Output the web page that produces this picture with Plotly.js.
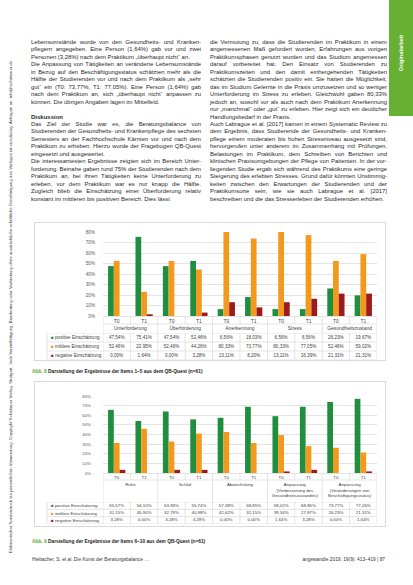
<!DOCTYPE html>
<html lang="de"><head><meta charset="utf-8">
<script src="https://cdn.plot.ly/plotly-3.0.1.min.js"></script>
<style>
html,body{margin:0;padding:0;background:#fff;}
#page{position:relative;width:413px;height:585px;overflow:hidden;font-family:"Liberation Sans",Arial,sans-serif;color:#2a2a2a;}
.col{position:absolute;top:39px;font-size:5.9px;line-height:7.45px;text-align:justify;}
.col p{margin:0;}
.col h4{margin:0;font-size:6px;line-height:7.45px;font-weight:bold;}
.frame{position:absolute;border:1px solid #d9d9d9;box-sizing:border-box;}
.plot{position:absolute;}
.cap{position:absolute;left:32px;font-size:4.8px;font-weight:bold;color:#1a1a1a;white-space:nowrap;}
.cap span{color:#5aab2e;}
#side{position:absolute;left:389px;top:0;width:24px;height:116px;background:#66b032;}
#sideText{position:absolute;left:401px;top:53px;transform:translate(-50%,-50%) rotate(-90deg);color:#fff;font-weight:bold;font-size:5.6px;white-space:nowrap;}
#vert{position:absolute;left:10px;top:307px;transform:translate(-50%,-50%) rotate(-90deg);font-size:4.3px;white-space:nowrap;color:#333;}
.foot{position:absolute;top:557px;font-size:4.8px;color:#333;white-space:nowrap;}
</style></head>
<body>
<div id="page">
  <div id="vert">Elektronischer Sonderdruck zur persönlichen Verwendung. Copyright Schattauer Verlag, Stuttgart. Jede Vervielfältigung, Bearbeitung oder Verbreitung ohne ausdrückliche schriftliche Genehmigung des Verlages ist unzulässig. Anfragen an: info@schattauer.de</div>
  <div id="side"></div>
  <div id="sideText">Originalarbeit</div>

  <div class="col" style="left:31px;width:170px;">
    <p>Lebensumstände wurde von den Gesund&shy;heits- und Kranken&shy;pflegern angegeben. Eine Person (1,64%) gab vor und zwei Personen (3,28%) nach dem Praktikum „überhaupt nicht“ an.</p>
    <p>Die Anpassung von Tätig&shy;keiten an veränderte Lebens&shy;umstände in Bezug auf den Beschäfti&shy;gungs&shy;status schätzten mehr als die Hälfte der Studierenden vor und nach dem Prak&shy;tikum als „sehr gut“ ein (T0: 73,77%, T1: 77,05%). Eine Person (1,64%) gab nach dem Praktikum an, sich „überhaupt nicht“ an&shy;passen zu können. Die übrigen Angaben lagen im Mittelfeld.</p>
    <p>&nbsp;</p>
    <h4>Diskussion</h4>
    <p>Das Ziel der Studie war es, die Beratungs&shy;balance von Studierenden der Gesund&shy;heits- und Kranken&shy;pflege des sechsten Semesters an der Fach&shy;hoch&shy;schule Kärnten vor und nach dem Praktikum zu erheben. Hierzu wurde der Frage&shy;bogen QB-Quest eingesetzt und ausgewertet.</p>
    <p>Die interessantesten Ergebnisse zeigten sich im Bereich Unter&shy;forderung. Beinahe gaben rund 75% der Studie&shy;renden nach dem Praktikum an, bei ihren Tätig&shy;keiten keine Unter&shy;forderung zu erleben, vor dem Praktikum war es nur knapp die Hälfte. Zugleich blieb die Ein&shy;schätzung einer Über&shy;forderung relativ konstant im mittleren bis positiven Bereich. Dies lässt</p>
  </div>

  <div class="col" style="left:210px;width:177px;">
    <p>die Vermutung zu, dass die Studierenden im Praktikum in einem an&shy;gemessenen Maß gefordert wurden, Erfahrungen aus vor&shy;igen Praktikums&shy;phasen genutzt wurden und das Studium angemessen darauf vorbereitet hat. Den Einsatz von Studierenden zu Praktikums&shy;zeiten und den damit einher&shy;gehenden Tätigkeiten schätzten die Studierenden positiv ein. Sie hatten die Möglichkeit, das im Studium Gelernte in die Praxis umzusetzen und so weniger Unter&shy;forderung im Stress zu erleben. Gleichwohl gaben 80,33% jedoch an, sowohl vor als auch nach dem Praktikum Aner&shy;kennung nur „manchmal“ oder „gut“ zu erleben. Hier zeigt sich ein deutlicher Handlungs&shy;bedarf in der Praxis.</p>
    <p>Auch Labrague et al. [2017] kamen in einem Systematic Review zu dem Ergebnis, dass Studierende der Gesund&shy;heits- und Kranken&shy;pflege einem moderaten bis hohen Stress&shy;niveau ausgesetzt sind, hervor&shy;gerufen unter anderem im Zusammen&shy;hang mit Prüfungen, Belas&shy;tungen im Praktikum, dem Schreiben von Berichten und klinischen Praxis&shy;umgebungen der Pflege von Patienten. In der vor&shy;liegenden Studie ergab sich während des Prak&shy;tikums eine geringe Steigerung des erlebten Stresses. Grund dafür könnten Unstimmig&shy;keiten zwischen den Erwartungen der Studie&shy;renden und der Praktikums&shy;orte sein, wie sie auch Labrague et al. [2017] beschreiben und die das Stress&shy;erleben der Studierenden erhöhen.</p>
  </div>

  <div class="frame" style="left:34px;top:222px;width:352px;height:139px;"></div>
  <div id="chart1" class="plot" style="left:34px;top:222px;width:352px;height:139px;"></div>
  <div class="cap" style="top:369px;"><span>Abb. 8</span> Darstellung der Ergebnisse der Items 1–5 aus dem QB-Quest (n=61)</div>

  <div class="frame" style="left:34px;top:381px;width:352px;height:146px;"></div>
  <div id="chart2" class="plot" style="left:34px;top:381px;width:352px;height:146px;"></div>
  <div class="cap" style="top:539px;"><span>Abb. 9</span> Darstellung der Ergebnisse der Items 6–10 aus dem QB-Quest (n=61)</div>

  <div class="foot" style="left:32px;">Hiebacher, S. et al. Die Kunst der Beratungsbalance …</div>
  <div class="foot" style="right:28px;">angewandte 2019; 19(9): 413–419 | 87</div>
</div>
<script>
// ---- data ----
const times = ["T0", "T1"];
const seriesNames = ["positive Einschätzung", "mittlere Einschätzung", "negative Einschätzung"];
const seriesColors = ["#1f8f3f", "#f39a1e", "#9a1c1c"];

const groups1 = ["Unterforderung", "Überforderung", "Anerkennung", "Stress", "Gesundheitszustand"];
const positive1 = [47.54, 75.41, 47.54, 52.46, 6.56, 18.03, 6.56, 6.56, 26.23, 19.67];
const medium1   = [52.46, 22.95, 52.46, 44.26, 80.33, 73.77, 80.33, 77.05, 52.46, 59.02];
const negative1 = [0.00, 1.64, 0.00, 3.28, 13.11, 8.20, 13.11, 16.39, 21.31, 21.31];

const groups2 = ["Ruhe", "Schlaf", "Abwechslung",
  "Anpassung<br>(Verbesserung des<br>Gesundheitszustandes)",
  "Anpassung<br>(Veränderungen von<br>Beschäftigungsstatus)"];
const positive2 = [65.57, 54.10, 63.93, 55.74, 57.38, 68.85, 59.02, 68.85, 73.77, 77.05];
const medium2   = [31.15, 45.90, 32.79, 40.98, 42.62, 31.15, 39.34, 27.87, 26.23, 21.31];
const negative2 = [3.28, 0.00, 3.28, 3.28, 0.00, 0.00, 1.64, 3.28, 0.00, 1.64];

const F = "Liberation Sans, Arial, sans-serif";
const GRID = "#d9d9d9";

function buildChart(id, groups, pos, mid, neg, g) {
  const W = 352, ml = 13, mr = 9;
  const pw = W - ml - mr, ph = g.H - g.mt - g.mb;
  const px = p => (p - ml) / pw;
  const py = p => (g.H - g.mb - p) / ph;
  const xg = [], xt = [];
  groups.forEach(gr => times.forEach(t => { xg.push(gr); xt.push(t); }));
  const vals = [pos, mid, neg];
  const n = xg.length;
  const traces = vals.map((v, i) => ({
    type: "bar", name: seriesNames[i], x: [xg, xt], y: v.map(a => a / 100),
    marker: {color: seriesColors[i]}, xaxis: "x", yaxis: "y", hoverinfo: "skip"
  }));
  const fmt = a => a.toFixed(2).replace(".", ",") + "%";
  const tx = [[], []], ty = [], tt = [];
  vals.forEach((v, i) => v.forEach((a, j) => {
    tx[0].push(xg[j]); tx[1].push(xt[j]); ty.push(seriesNames[i]); tt.push(fmt(a));
  }));
  traces.push({type: "scatter", mode: "text", x: tx, y: ty, text: tt,
    textfont: {size: g.tf, color: "#404040", family: F},
    xaxis: "x2", yaxis: "y2", showlegend: false, hoverinfo: "skip", cliponaxis: false});

  const line = {color: GRID, width: 0.7};
  const shapes = [];
  [-0.5, 0.5, 1.5, 2.5].forEach(k => shapes.push({type: "line", xref: "paper", x0: 0, x1: 1, yref: "y2", y0: k, y1: k, line}));
  shapes.push({type: "line", xref: "paper", x0: 0, x1: 0, yref: "y2", y0: -0.5, y1: 2.5, line});
  for (let b = -0.5; b <= n - 0.5; b += 1) {
    shapes.push({type: "line", xref: "x2", x0: b, x1: b, yref: "y2", y0: -0.5, y1: 2.5, line});
    const isGroup = (Math.round(b + 0.5) % 2 === 0);
    shapes.push({type: "line", xref: "x", x0: b, x1: b, yref: "paper",
      y0: isGroup ? py(g.tableTop) : py(g.tRowBottom), y1: py(g.plotBottom), line});
  }
  shapes.push({type: "line", xref: "x", x0: -0.5, x1: n - 0.5, yref: "paper", y0: py(g.tRowBottom), y1: py(g.tRowBottom), line});

  const annotations = seriesNames.map((s, i) => ({
    xref: "paper", x: 0, xanchor: "left", xshift: 2, yref: "y2", y: s, showarrow: false,
    text: '<span style="color:' + seriesColors[i] + '">■</span> ' + s,
    font: {size: g.tf, color: "#404040", family: F}
  }));

  const xdom = [px(g.plotLeft), 1];
  const layout = {
    width: W, height: g.H, margin: {l: ml, r: mr, t: g.mt, b: g.mb},
    paper_bgcolor: "rgba(0,0,0,0)", plot_bgcolor: "rgba(0,0,0,0)",
    font: {family: F, color: "#595959"},
    showlegend: false, barmode: "group", bargap: 0.37, bargroupgap: 0,
    xaxis: {type: "multicategory", domain: xdom, anchor: "y", range: [-0.5, n - 0.5],
      showdividers: false, ticks: "", showgrid: false, showline: true, linecolor: GRID, linewidth: 0.7,
      tickfont: {size: g.cf, color: "#404040", family: F}, fixedrange: true},
    yaxis: {domain: [py(g.plotBottom), 1], anchor: "x", range: [0, 0.8], dtick: 0.1, tickformat: ".0%",
      showgrid: true, gridcolor: GRID, gridwidth: 0.7, zeroline: false, showline: false, ticks: "",
      ticklabelstandoff: g.so, tickfont: {size: g.tf, color: "#595959", family: F}, fixedrange: true},
    xaxis2: {type: "multicategory", domain: xdom, anchor: "y2", range: [-0.5, n - 0.5],
      showticklabels: false, showdividers: false, ticks: "", showgrid: false, showline: false, fixedrange: true},
    yaxis2: {type: "category", domain: [0, py(g.tableTop)], anchor: "x2",
      categoryorder: "array", categoryarray: seriesNames.slice().reverse(), range: [-0.5, 2.5],
      showticklabels: false, showgrid: false, zeroline: false, showline: false, ticks: "", fixedrange: true},
    shapes, annotations
  };
  Plotly.newPlot(id, traces, layout, {staticPlot: true, displayModeBar: false});
}

buildChart("chart1", groups1, positive1, medium1, negative1,
  {H: 139, mt: 10, mb: 1, plotLeft: 69, plotBottom: 94, tRowBottom: 102, tableTop: 111, tf: 4.6, cf: 4.9, so: 7});
buildChart("chart2", groups2, positive2, medium2, negative2,
  {H: 146, mt: 15, mb: 3, plotLeft: 69, plotBottom: 92, tRowBottom: 99, tableTop: 121, tf: 4.4, cf: 4.4, so: 11});
</script>
</body></html>
